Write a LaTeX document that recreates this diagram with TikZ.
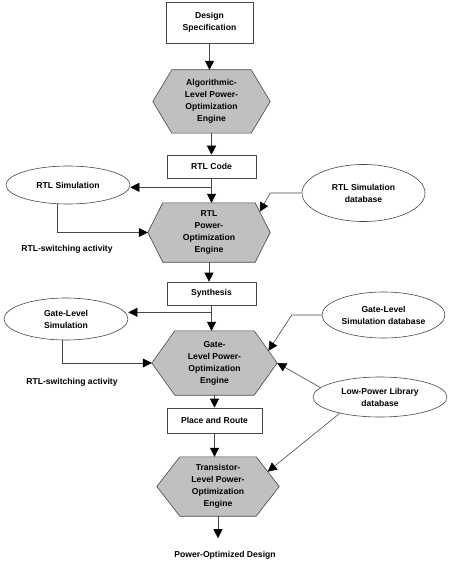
\documentclass[tikz,border=0pt]{standalone}
\usepackage{fontspec}
\setmainfont{Liberation Sans}
\usetikzlibrary{arrows.meta,calc,backgrounds,shapes.geometric}
\definecolor{hexgray}{RGB}{192,192,192}
\definecolor{linegray}{RGB}{70,70,70}
\newcommand\drawhex[2]{%
 \coordinate (#1-nw) at ($(#1.north west)+(#2,0)$);
 \coordinate (#1-ne) at ($(#1.north east)+(-#2,0)$);
 \coordinate (#1-sw) at ($(#1.south west)+(#2,0)$);
 \coordinate (#1-se) at ($(#1.south east)+(-#2,0)$);
 \filldraw[hexdraw] (#1.west) -- (#1-nw) -- (#1-ne) -- (#1.east) -- (#1-se) -- (#1-sw) -- cycle;}
\tikzset{
 lbl/.style={font=\bfseries\fontsize{8.6}{12}\selectfont, align=center, inner sep=0pt, text=black},
 boxn/.style={lbl, draw=linegray, line width=0.6pt, rectangle},
 elln/.style={lbl, draw=linegray, line width=0.6pt, ellipse},
 hexn/.style={lbl, rectangle},
 hexdraw/.style={fill=hexgray, draw=linegray, line width=0.6pt},
 arr/.style={draw=linegray, line width=0.6pt, -{Triangle[width=9pt,length=9pt,color=black]}}
}
\begin{document}
\begin{tikzpicture}[x=1pt,y=-1pt]
\useasboundingbox (0,0) rectangle (450,564);
\node[boxn, minimum width=87pt, minimum height=41pt] (spec) at (209.5,22.5) {Design\\Specification};
\node[hexn, minimum width=117pt, minimum height=63pt] (h1) at (211.5,101.5) {Algorithmic-\\Level Power-\\Optimization\\Engine};
\node[boxn, minimum width=89pt, minimum height=23pt] (rtl) at (211.5,166.5) {RTL Code};
\node[elln, minimum width=124pt, minimum height=38pt] (rtlsim) at (68,185) {RTL Simulation};
\node[elln, minimum width=123pt, minimum height=57pt] (rtldb) at (363.5,193) {RTL Simulation\\database};
\node[hexn, minimum width=122pt, minimum height=59pt] (h2) at (209,232.5) {RTL\\Power-\\Optimization\\Engine};
\node[lbl] (sw1) at (67,249) {RTL-switching activity};
\node[boxn, minimum width=89pt, minimum height=23pt] (syn) at (211.5,293.5) {Synthesis};
\node[elln, minimum width=124pt, minimum height=42pt] (gatesim) at (66,319) {Gate-Level\\Simulation};
\node[elln, minimum width=123pt, minimum height=46pt] (gatedb) at (383.5,315) {Gate-Level\\Simulation database};
\node[hexn, minimum width=125pt, minimum height=64pt] (h3) at (214.5,363) {Gate-\\Level Power-\\Optimization\\Engine};
\node[lbl] (sw2) at (72,382) {RTL-switching activity};
\node[elln, minimum width=134pt, minimum height=40pt] (lowdb) at (380,397) {Low-Power Library\\database};
\node[boxn, minimum width=95pt, minimum height=25pt] (par) at (214.5,420.5) {Place and Route};
\node[hexn, minimum width=122pt, minimum height=59pt] (h4) at (218,486.5) {Transistor-\\Level Power-\\Optimization\\Engine};
\node[lbl] (out) at (225,555) {Power-Optimized Design};
\coordinate (outtip) at ($(h4.south)+(0,22)$);
\begin{scope}[on background layer]
\drawhex{h1}{19}
\drawhex{h2}{15}
\drawhex{h3}{23}
\drawhex{h4}{23}
\end{scope}
\draw[arr] (spec.south) -- (spec.south |- h1.north);
\draw[arr] (h1.south) -- (h1.south |- rtl.north);
\draw[arr] (rtl.south) -- (rtl.south |- h2.north);
\coordinate (b1) at ($(rtl.south)+(0,9)$);
\draw[arr] (b1) -- (b1 -| rtlsim.east);
\draw[arr] ([xshift=-11pt]rtlsim.south) |- (h2.west);
\draw[arr] (rtldb.west) -- (rtldb.west -| h2.east) -- ($(h2-ne)!0.3!(h2.east)$);
\draw[arr] (h2.south) -- (h2.south |- syn.north);
\draw[arr] (syn.south) -- (syn.south |- h3.north);
\coordinate (b2) at ($(syn.south)+(0,7)$);
\draw[arr] (b2) -- (b2 -| gatesim.east);
\draw[arr] ([xshift=-4pt]gatesim.south) |- (h3.west);
\draw[arr] (gatedb.west) -- ++(-30,0) -- ($(h3-ne)!0.62!(h3.east)$);
\draw[arr] (lowdb.171) -- (h3.east);
\draw[arr] (lowdb.202) -- ($(h4-ne)!0.5!(h4.east)$);
\draw[arr] (h3.south) -- (h3.south |- par.north);
\draw[arr] (par.south) -- (par.south |- h4.north);
\draw[arr] (h4.south) -- (outtip);
\end{tikzpicture}
\end{document}
